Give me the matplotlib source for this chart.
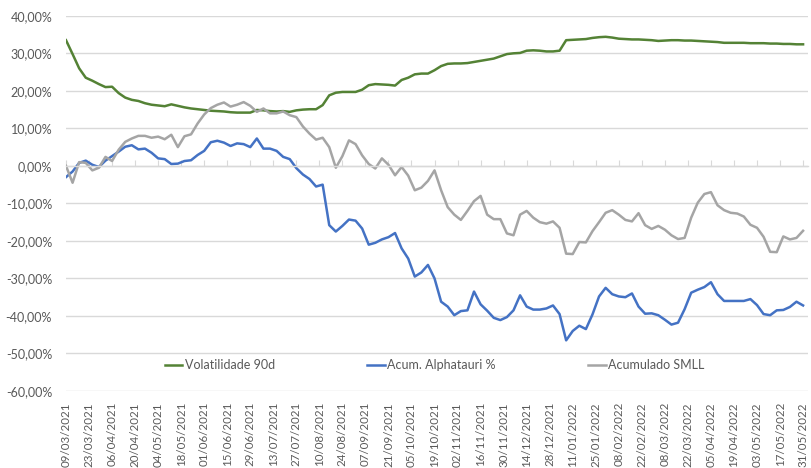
import matplotlib
matplotlib.use("Agg")
import matplotlib.pyplot as plt
import matplotlib.dates as mdates
import pandas as pd
from matplotlib.ticker import FuncFormatter, MultipleLocator

plt.rcParams["font.family"] = ["Lato", "DejaVu Sans"]

# sampling dates (every 4 days) and the x tick dates (every 14 days)
dates = pd.date_range("2021-03-09", "2022-05-31", freq="4D")
tick_dates = pd.date_range("2021-03-09", "2022-05-31", freq="14D")

# values in %
volatilidade_90d = [
    33.5, 29.8, 26.0, 23.5, 22.7, 21.8, 21.0, 21.1, 19.4, 18.2,
    17.6, 17.3, 16.7, 16.3, 16.1, 15.9, 16.4, 16.0, 15.6, 15.3,
    15.1, 14.9, 14.7, 14.6, 14.5, 14.3, 14.2, 14.2, 14.2, 14.9,
    14.8, 14.6, 14.5, 14.6, 14.4, 14.8, 15.0, 15.1, 15.1, 16.2,
    18.8, 19.5, 19.7, 19.7, 19.7, 20.3, 21.5, 21.8, 21.7, 21.6,
    21.4, 22.9, 23.5, 24.4, 24.6, 24.6, 25.5, 26.6, 27.2, 27.3,
    27.3, 27.4, 27.7, 28.0, 28.3, 28.6, 29.2, 29.8, 30.0, 30.1,
    30.7, 30.8, 30.7, 30.5, 30.5, 30.7, 33.5, 33.6, 33.7, 33.8,
    34.1, 34.3, 34.4, 34.2, 33.9, 33.8, 33.7, 33.7, 33.6, 33.5,
    33.3, 33.4, 33.5, 33.5, 33.4, 33.4, 33.3, 33.2, 33.1, 33.0,
    32.8, 32.8, 32.8, 32.8, 32.7, 32.7, 32.7, 32.6, 32.6, 32.5,
    32.5, 32.4, 32.4,
]

acum_alphatauri = [
    -3.0, -1.5, 0.8, 1.4, 0.3, -0.3, 1.4, 2.6, 3.8, 5.1,
    5.5, 4.4, 4.6, 3.5, 2.0, 1.8, 0.5, 0.6, 1.3, 1.5,
    2.9, 4.0, 6.3, 6.7, 6.2, 5.3, 6.0, 5.8, 5.0, 7.3,
    4.6, 4.6, 4.0, 2.4, 1.8, -0.6, -2.3, -3.5, -5.5, -5.0,
    -15.8, -17.5, -16.0, -14.3, -14.6, -16.7, -21.0, -20.5, -19.6, -19.0,
    -17.9, -22.0, -24.7, -29.5, -28.4, -26.4, -30.0, -36.2, -37.5, -39.8,
    -38.7, -38.5, -33.5, -36.9, -38.6, -40.5, -41.1, -40.3, -38.5, -34.5,
    -37.5, -38.3, -38.3, -38.0, -37.2, -39.5, -46.5, -44.0, -42.6, -43.5,
    -39.6, -34.8, -32.5, -34.2, -34.8, -35.0, -34.0, -37.5, -39.4, -39.3,
    -39.8, -41.0, -42.3, -41.8, -38.2, -33.8, -33.0, -32.3, -31.0, -34.2,
    -36.0, -36.0, -36.0, -36.0, -35.5, -37.1, -39.5, -39.8, -38.5, -38.4,
    -37.6, -36.2, -37.2,
]

acumulado_smll = [
    0.0, -4.5, 1.0, 0.8, -1.2, -0.5, 2.4, 1.3, 4.3, 6.4,
    7.3, 8.0, 8.0, 7.5, 7.8, 7.1, 8.3, 5.0, 7.9, 8.4,
    11.3, 13.7, 15.4, 16.3, 16.9, 15.8, 16.3, 17.0, 16.0, 14.4,
    15.3, 14.0, 14.0, 14.5, 13.5, 13.0, 10.5, 8.6, 7.0, 7.5,
    5.0, -0.5, 2.6, 6.8, 5.8, 2.8, 0.5, -0.7, 2.0, 0.3,
    -2.5, -0.3, -2.6, -6.5, -5.8, -4.0, -1.2, -6.5, -11.0, -13.0,
    -14.4, -12.0, -9.4, -8.0, -13.0, -14.2, -14.2, -18.0, -18.5, -13.0,
    -12.0, -13.8, -15.0, -15.4, -14.8, -16.5, -23.4, -23.5, -20.3, -20.4,
    -17.4, -15.0, -12.5, -11.8, -13.0, -14.4, -14.8, -12.6, -15.8, -16.8,
    -16.0, -17.0, -18.5, -19.5, -19.2, -13.8, -9.8, -7.5, -7.0, -10.5,
    -11.8, -12.5, -12.7, -13.5, -15.7, -16.5, -18.9, -22.9, -23.0, -18.8,
    -19.6, -19.2, -17.3,
]

GREEN = "#548235"
BLUE = "#4472C4"
GRAY = "#A5A5A5"
GRID = "#D9D9D9"
TEXT = "#595959"

fig = plt.figure(figsize=(8.11, 4.68), dpi=100)
ax = fig.add_axes([66 / 811, 1 - 391 / 468, 742 / 811, (391 - 15.8) / 468])

ax.plot(dates, volatilidade_90d, color=GREEN, lw=1.8, label="Volatilidade 90d")
ax.plot(dates, acum_alphatauri, color=BLUE, lw=1.8, label="Acum. Alphatauri %")
ax.plot(dates, acumulado_smll, color=GRAY, lw=1.8, label="Acumulado SMLL")

ax.set_ylim(-60, 40)
ax.yaxis.set_major_locator(MultipleLocator(10))
ax.yaxis.set_major_formatter(FuncFormatter(lambda v, _: f"{v:.2f}%".replace(".", ",")))
ax.set_xlim(pd.Timestamp("2021-03-09"), pd.Timestamp("2022-06-03"))
ax.set_xticks(tick_dates)
ax.xaxis.set_major_formatter(mdates.DateFormatter("%d/%m/%Y"))

ax.grid(axis="y", color=GRID, lw=1.0)
ax.set_axisbelow(True)
for side in ["left", "right", "bottom"]:
    ax.spines[side].set_visible(False)
# category axis crosses at 0 with small tick marks
ax.spines["top"].set_position(("data", 0))
ax.spines["top"].set_color(GRID)
ax.spines["top"].set_linewidth(1.0)

ax.tick_params(axis="y", length=0, pad=10, labelsize=9, labelcolor=TEXT)
ax.tick_params(axis="x", bottom=False, top=True, labelbottom=True, labeltop=False,
               direction="out", length=4, color=GRID, pad=4,
               labelsize=8.3, labelcolor=TEXT, labelrotation=90)

ax.legend(loc="center", bbox_to_anchor=(0.497, (391 - 365) / 375.2),
          ncol=3, frameon=False, fontsize=9, labelcolor=TEXT,
          handlelength=1.4, handletextpad=0.2, columnspacing=7.4)

fig.savefig("out.png", dpi=100)
plt.close(fig)
